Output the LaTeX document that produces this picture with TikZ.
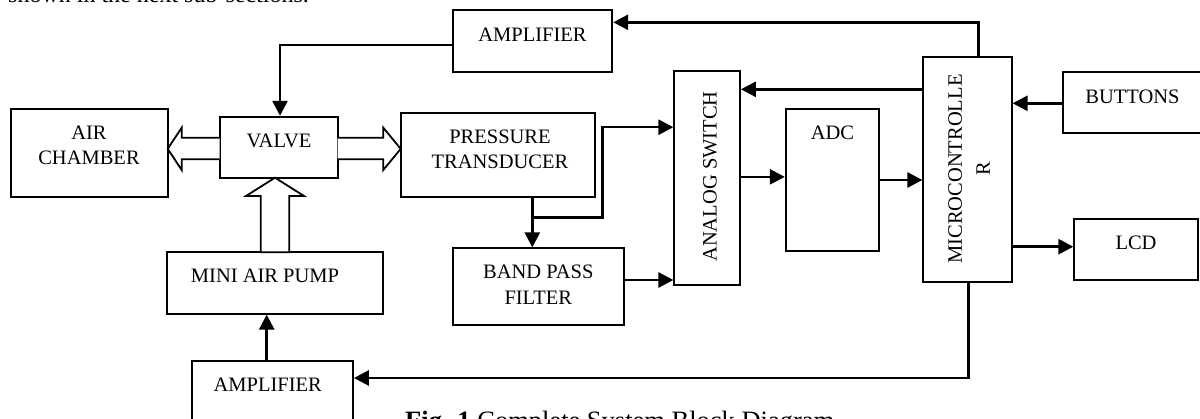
\documentclass[tikz,border=0pt]{standalone}
\usepackage{fontspec}
\setmainfont{Liberation Serif}
\usetikzlibrary{arrows.meta}
\tikzset{
  box/.style={draw, line width=1.8pt, inner sep=0pt},
  txt/.style={inner sep=0pt, font=\fontsize{20.5}{25.5}\selectfont, align=center},
  conn/.style={line width=2.6pt, -{Triangle[length=15pt,width=15pt]}},
  plainconn/.style={line width=2.6pt},
  hollow/.style={draw, fill=white, line width=1.8pt, line join=miter}
}
\begin{document}
\begin{tikzpicture}[x=1pt,y=-1pt]
\useasboundingbox (0,0) rectangle (1200,419);
\clip (0,0) rectangle (1200,419);
\fill[white] (0,0) rectangle (1200,419);

% boxes
\node[box, minimum width=157pt, minimum height=87.7pt] (air) at (89.2,152.85) {};
\node[box, minimum width=118pt, minimum height=61pt] (valve) at (278.7,147.2) {};
\node[box, minimum width=159pt, minimum height=61.7pt] (amptop) at (532.8,40.85) {};
\node[box, minimum width=194.3pt, minimum height=83.4pt] (pt) at (497.85,155) {};
\node[box, minimum width=65.7pt, minimum height=214.3pt] (asw) at (707.15,177.85) {};
\node[box, minimum width=93.6pt, minimum height=142pt] (adc) at (832.5,180) {};
\node[box, minimum width=88.4pt, minimum height=225pt] (mc) at (967.5,169.2) {};
\node[box, minimum width=146.7pt, minimum height=61.6pt] (btn) at (1136.65,102.5) {};
\node[box, minimum width=123.4pt, minimum height=61pt] (lcd) at (1136,249.5) {};
\node[box, minimum width=215.4pt, minimum height=61.4pt] (pump) at (275,283) {};
\node[box, minimum width=170.7pt, minimum height=77pt] (bpf) at (538.65,286.8) {};
\node[box, minimum width=161pt, minimum height=61.6pt] (ampbot) at (272.5,391.5) {};

% texts
\node[txt] (tair) at (89,145.5) {AIR\\CHAMBER};
\node[txt] (tvalve) at (279,141.2) {VALVE};
\node[txt] (tamptop) at (532.5,34.3) {AMPLIFIER};
\node[txt] (tpt) at (500,149.5) {PRESSURE\\TRANSDUCER};
\node[txt, rotate=90] (tasw) at (710,176.5) {ANALOG SWITCH};
\node[txt] (tadc) at (832.5,133.3) {ADC};
\node[txt, rotate=90, font=\fontsize{20.5}{28}\selectfont] (tmc) at (969,169) {MICROCONTROLLE\\R};
\node[txt] (tbtn) at (1132.5,96.7) {BUTTONS};
\node[txt] (tlcd) at (1136,243.3) {LCD};
\node[txt] (tpump) at (265,276) {MINI AIR PUMP};
\node[txt] (tbpf) at (538.3,284.5) {BAND PASS\\FILTER};
\node[txt] (tampbot) at (267.7,385) {AMPLIFIER};

% hollow arrows
\draw[hollow] (219.7,137.7) -- (181.7,137.7) -- (181.7,127.7) -- (167.7,148.85)
  -- (181.7,170) -- (181.7,159.3) -- (219.7,159.3);
\draw[hollow] (337.7,137.7) -- (383.3,137.7) -- (383.3,127.7) -- (400.7,148.85)
  -- (383.3,170) -- (383.3,159.3) -- (337.7,159.3);
\draw[hollow] (260.7,252.3) -- (260.7,196) -- (246,196) -- (275,177.7)
  -- (304,196) -- (289.3,196) -- (289.3,252.3) -- cycle;

% connectors
\draw[conn] ([xshift=10.8pt]mc.north) |- ([yshift=18.55pt]amptop.east);
\draw[conn] ([yshift=-4.15pt]amptop.west) -| ([xshift=1.3pt]valve.north);
\draw[conn] ([yshift=79.9pt]mc.west) -- ([yshift=79.9pt]mc.west -| asw.east);
\draw[conn] ([yshift=-0.8pt]btn.west) -- ([yshift=-0.8pt]btn.west -| mc.east);
\draw[conn] ([yshift=1pt]asw.east) -- ([yshift=1pt]asw.east -| adc.west);
\draw[conn] (adc.east) -- (adc.east -| mc.west);
\draw[conn] ([yshift=2.8pt]lcd.west -| mc.east) -- ([yshift=2.8pt]lcd.west);
\draw[conn] ([xshift=34.45pt]pt.south) -- ([xshift=34.45pt]pt.south |- bpf.north);
\coordinate (j) at (532.3,217.5);
\coordinate (k) at (602.5,127.2);
\draw[plainconn] (j) -| (k);
\draw[conn] ([xshift=-1.3pt]k) -- (k -| asw.west);
\draw[conn] ([yshift=6.8pt]bpf.east) -- ([yshift=6.8pt]bpf.east -| asw.west);
\draw[conn] ([xshift=0.8pt]mc.south) |- ([yshift=13.5pt]ampbot.east);
\draw[conn] ([xshift=-5.8pt]ampbot.north) -- ([xshift=-5.8pt]ampbot.north |- pump.south);

% surrounding text (cut off by the picture's edges, as in the reference)
\node[anchor=base west, inner sep=0pt, font=\fontsize{24}{28}\selectfont] (toptext) at (8,2.5) {shown in the next sub-sections.};
\node[anchor=base west, inner sep=0pt, font=\fontsize{26.5}{30}\selectfont] (caption) at (405,430) {\textbf{Fig. 1} Complete System Block Diagram};
\end{tikzpicture}
\end{document}
